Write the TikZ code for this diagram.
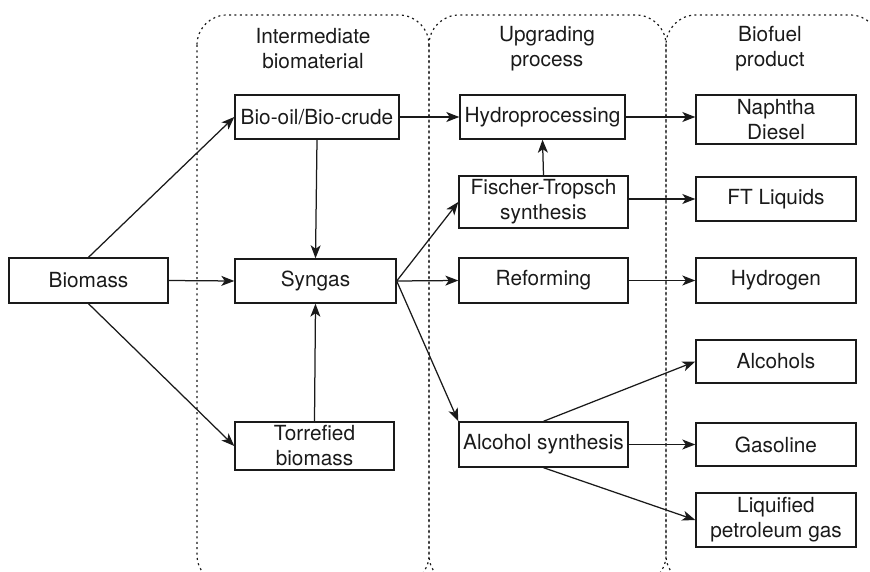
\documentclass[tikz,border=0pt]{standalone}
\usepackage{fontspec}
\setmainfont{TeX Gyre Heros}
\usetikzlibrary{arrows.meta}
\definecolor{ink}{HTML}{1A1A1A}
\begin{document}
\begin{tikzpicture}[x=1pt,y=-1pt,
  every node/.style={font=\fontsize{20.8}{25}\selectfont, text=ink},
  box/.style={draw=ink, line width=1.4pt, align=center, inner sep=0pt},
  head/.style={align=center, inner sep=0pt},
  panel/.style={draw=ink, line width=1.2pt, dash pattern=on 2pt off 3.4pt, rounded corners=30pt},
  conn/.style={draw=ink, line width=1.25pt, -{Stealth[length=13pt,width=10pt,inset=3.5pt]}}]
\useasboundingbox (0,0) rectangle (870,572);
\clip (0,0) rectangle (870,572);

% stage panels
\draw[panel] (197,15) rectangle (429,585);
\draw[panel] (429,15) rectangle (666,585);
\draw[panel] (666,15) rectangle (880,585);

% stage headings
\node[head] (h1) at (313,49) {Intermediate\\biomaterial};
\node[head] (h2) at (547,49) {Upgrading\\process};
\node[head] (h3) at (770,49) {Biofuel\\product};

% feedstock and intermediates
\node[box, minimum width=159pt, minimum height=45pt] (bio) at (88.5,280.5) {Biomass};
\node[box, minimum width=164pt, minimum height=44pt] (oil) at (317,117) {Bio-oil/Bio-crude};
\node[box, minimum width=161pt, minimum height=44pt] (syn) at (315.5,281) {Syngas};
\node[box, minimum width=159pt, minimum height=48pt] (tor) at (314.5,446) {Torrefied\\biomass};

% upgrading processes
\node[box, minimum width=165pt, minimum height=44pt] (hyd) at (542.5,117) {Hydroprocessing};
\node[box, minimum width=169pt, minimum height=52pt] (ft) at (543.5,202) {Fischer-Tropsch\\synthesis};
\node[box, minimum width=169pt, minimum height=45pt] (ref) at (543.5,280.5) {Reforming};
\node[box, minimum width=169pt, minimum height=45pt] (alc) at (543.5,444.5) {Alcohol synthesis};

% products
\node[box, minimum width=160pt, minimum height=49pt] (nap) at (776,119.5) {Naphtha\\Diesel};
\node[box, minimum width=160pt, minimum height=44pt] (ftl) at (776,199) {FT Liquids};
\node[box, minimum width=160pt, minimum height=45pt] (hydg) at (776,280.5) {Hydrogen};
\node[box, minimum width=160pt, minimum height=43pt] (alcs) at (776,361.5) {Alcohols};
\node[box, minimum width=160pt, minimum height=43pt] (gas) at (776,444.5) {Gasoline};
\node[box, minimum width=160pt, minimum height=54pt] (lpg) at (776,520) {Liquified\\petroleum gas};

% conversion routes
\draw[conn] (bio.north) -- (oil.west);
\draw[conn] (bio.east) -- (syn.west);
\draw[conn] (bio.south) -- (tor.west);
\draw[conn] (oil.south) -- (syn.north);
\draw[conn] (tor.north) -- (syn.south);
\draw[conn] (oil.east) -- (hyd.west);
\draw[conn] (syn.east) -- (ft.west);
\draw[conn] (syn.east) -- (ref.west);
\draw[conn] (syn.east) -- (alc.north west);
\draw[conn] (ft.north) -- (hyd.south);
\draw[conn] (hyd.east) -- (hyd.east -| nap.west);
\draw[conn] (ft.east |- ftl) -- (ftl.west);
\draw[conn] (ref.east) -- (hydg.west);
\draw[conn] (alc.north) -- (alcs.west);
\draw[conn] (alc.east) -- (gas.west);
\draw[conn] (alc.south) -- (lpg.west);
\end{tikzpicture}
\end{document}
